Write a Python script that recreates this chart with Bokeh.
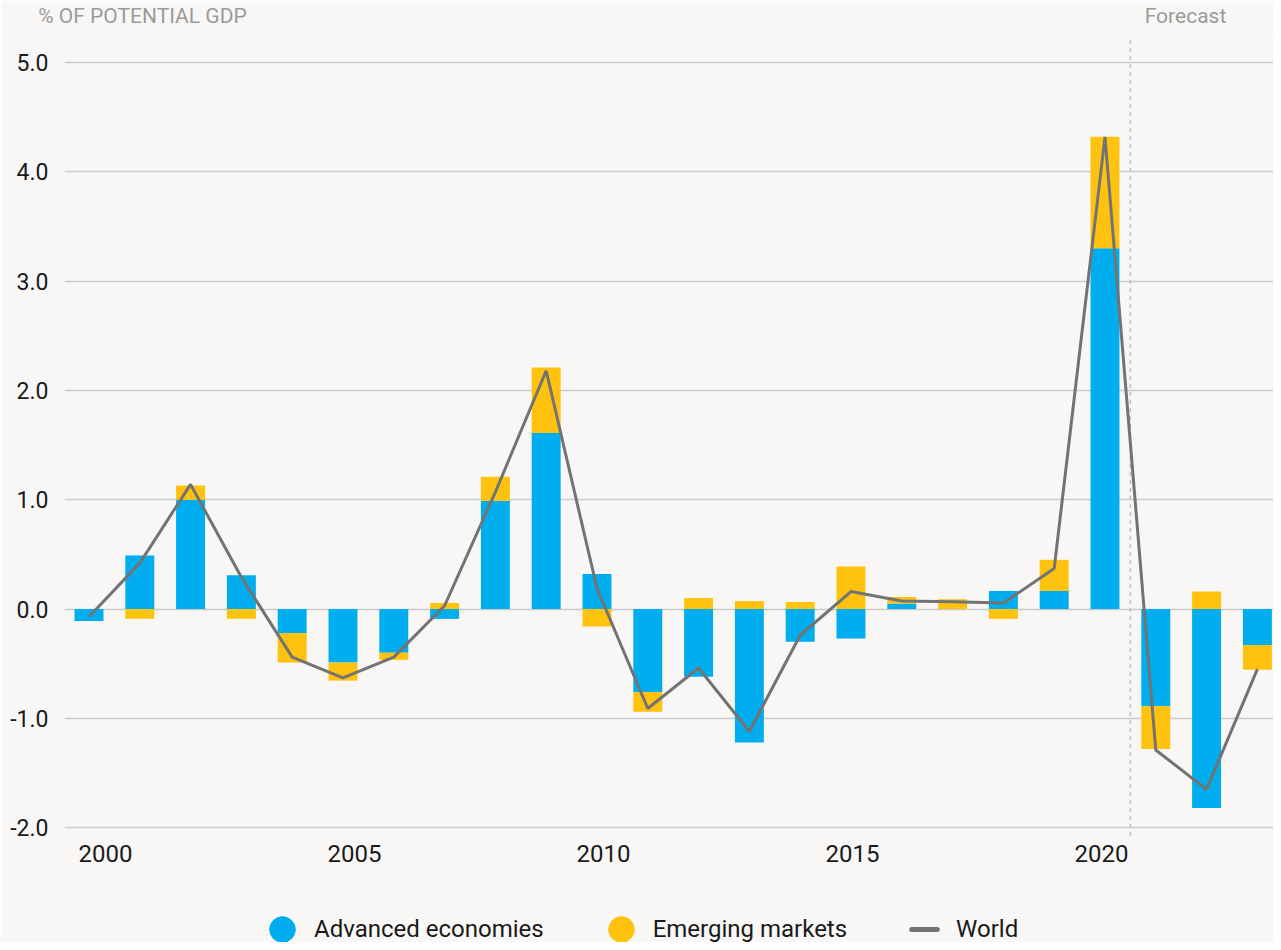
import numpy as np
from bokeh.plotting import figure
from bokeh.models import (ColumnDataSource, FixedTicker, PrintfTickFormatter,
                          Legend, LegendItem, Range1d, LinearAxis)
from bokeh.embed import file_html
from bokeh.resources import INLINE

# ---------------- data ----------------
years = list(range(2000, 2024))
advanced = [-0.11, 0.49, 1.00, 0.31, -0.22, -0.49, -0.40, -0.09, 0.99, 1.61,
            0.32, -0.76, -0.62, -1.22, -0.30, -0.27, 0.05, 0.00, 0.165, 0.165,
            3.30, -0.89, -1.82, -0.33]
emerging = [0.00, -0.09, 0.13, -0.09, -0.27, -0.165, -0.065, 0.055, 0.22, 0.60,
            -0.16, -0.18, 0.10, 0.073, 0.064, 0.39, 0.06, 0.09, -0.09, 0.285,
            1.02, -0.39, 0.16, -0.225]
world = [-0.07, 0.42, 1.14, 0.29, -0.44, -0.63, -0.44, 0.03, 1.07, 2.18,
         0.19, -0.91, -0.54, -1.12, -0.24, 0.16, 0.073, 0.067, 0.055, 0.37,
         4.32, -1.29, -1.65, -0.55]
x_tick_labels = ["2000", "2005", "2010", "2015", "2020"]
y_ticks = [-2, -1, 0, 1, 2, 3, 4, 5]
forecast_start = 2020.5
unit_label = "% OF POTENTIAL GDP"
forecast_label = "Forecast"
series_names = ["Advanced economies", "Emerging markets", "World"]

# ---------------- layout / styles ----------------
BLUE = "#00AEEF"
YELLOW = "#FFC20E"
GREY = "#737373"
BG = "#F8F7F5"
FONT = "Roboto"
W, H = 1273, 942
LEFT, TOP = 64, 36                 # frame offsets in px
PPY = 50.8                         # px per year (bars)
PPU = 109.43                       # px per y unit
LABEL_X0, LABEL_STEP = 105, 49.8   # year labels sit on their own evenly spaced scale
x_start = 1999.518
x_end = x_start + (W - LEFT) / PPY
y_end = 5.0 + 25 / PPU             # 5.0 gridline 25px below frame top
y_start = y_end - (H - TOP) / PPU  # frame runs to the bottom of the figure
axis_y = -2.0 - 8 / PPU            # where the year labels hang from


def x_at(px):
    return round(x_start + (px - LEFT) / PPY, 3)


adv = np.array(advanced, dtype=float)
emg = np.array(emerging, dtype=float)
emg_bottom = np.where(np.sign(emg) == np.sign(adv), adv, 0.0)
emg_top = emg_bottom + emg

src = ColumnDataSource(dict(
    year=years, adv_top=adv, adv_bottom=np.zeros_like(adv),
    emg_top=emg_top, emg_bottom=emg_bottom, world=world))

p = figure(width=W, height=H, output_backend="svg", toolbar_location=None,
           x_range=Range1d(x_start, x_end), y_range=Range1d(y_start, y_end),
           x_axis_location="above",
           min_border_left=LEFT, min_border_right=0, min_border_top=TOP,
           min_border_bottom=0)
p.background_fill_color = BG
p.border_fill_color = BG
p.outline_line_color = None

# top axis carries the unit label and the forecast label
t_unit, t_fore = x_at(142), x_at(1185)
top_ax = p.xaxis[0]
top_ax.ticker = FixedTicker(ticks=[t_unit, t_fore])
top_ax.major_label_overrides = {t_unit: unit_label, t_fore: forecast_label}
top_ax.axis_line_color = None
top_ax.major_tick_line_color = None
top_ax.minor_tick_line_color = None
top_ax.major_tick_out = 0
top_ax.major_tick_in = 0
top_ax.major_label_standoff = 10
top_ax.major_label_text_font = FONT
top_ax.major_label_text_font_size = "21px"
top_ax.major_label_text_color = "#9b9b9b"
top_ax.major_label_text_align = "center"

# year axis, fixed inside the frame so the legend can sit below it
year_pos = [x_at(LABEL_X0 + LABEL_STEP * (int(t) - 2000)) for t in x_tick_labels]
year_ax = LinearAxis(fixed_location=axis_y, ticker=FixedTicker(ticks=year_pos),
                     major_label_overrides=dict(zip(year_pos, x_tick_labels)))
year_ax.axis_line_color = None
year_ax.major_tick_line_color = None
year_ax.minor_tick_line_color = None
year_ax.major_tick_out = 0
year_ax.major_tick_in = 0
year_ax.major_label_standoff = 9
year_ax.major_label_text_font = FONT
year_ax.major_label_text_font_size = "24px"
year_ax.major_label_text_color = "#1a1a1a"
p.add_layout(year_ax, "below")

p.yaxis.ticker = FixedTicker(ticks=y_ticks)
p.yaxis.formatter = PrintfTickFormatter(format="%.1f")
p.yaxis.axis_line_color = None
p.yaxis.major_tick_line_color = None
p.yaxis.minor_tick_line_color = None
p.yaxis.major_tick_out = 0
p.yaxis.major_tick_in = 0
p.yaxis.major_label_standoff = 16
p.yaxis.major_label_text_font = FONT
p.yaxis.major_label_text_font_size = "23px"
p.yaxis.major_label_text_color = "#1a1a1a"

p.xgrid.grid_line_color = None
p.ygrid.ticker = FixedTicker(ticks=y_ticks)
p.ygrid.grid_line_color = "#cccccc"
p.ygrid.grid_line_width = 1.5

# forecast divider (from the bottom gridline area to the top of the frame)
p.segment(x0=[forecast_start], y0=[axis_y], x1=[forecast_start], y1=[y_end],
          line_color="#bdbdbd", line_dash="4 4", line_width=1.5)

p.vbar(x="year", top="adv_top", bottom="adv_bottom", width=0.57, source=src,
       fill_color=BLUE, line_color=None)
p.vbar(x="year", top="emg_top", bottom="emg_bottom", width=0.57, source=src,
       fill_color=YELLOW, line_color=None)
p.line(x="year", y="world", source=src, line_color=GREY, line_width=3)

# legend proxies (a NaN point each, so nothing shows in the plot)
nan_src = ColumnDataSource(dict(x=[np.nan], y=[np.nan]))
r1 = p.scatter(x="x", y="y", source=nan_src, marker="circle", fill_color=BLUE,
               line_color=BLUE)
r2 = p.scatter(x="x", y="y", source=nan_src, marker="circle", fill_color=YELLOW,
               line_color=YELLOW)
r3 = p.scatter(x="x", y="y", source=nan_src, marker="dash", line_color=GREY,
               line_width=5, line_cap="round")
legend = Legend(items=[LegendItem(label=series_names[0], renderers=[r1]),
                       LegendItem(label=series_names[1], renderers=[r2]),
                       LegendItem(label=series_names[2], renderers=[r3])],
                orientation="horizontal", location=(186, -22),
                glyph_width=64, glyph_height=70, label_standoff=0, spacing=45,
                padding=0, margin=0,
                label_text_font=FONT, label_text_font_size="24px",
                label_text_color="#1a1a1a",
                background_fill_alpha=0, border_line_alpha=0)
p.add_layout(legend)

open("out.html", "w").write(file_html(p, INLINE))
